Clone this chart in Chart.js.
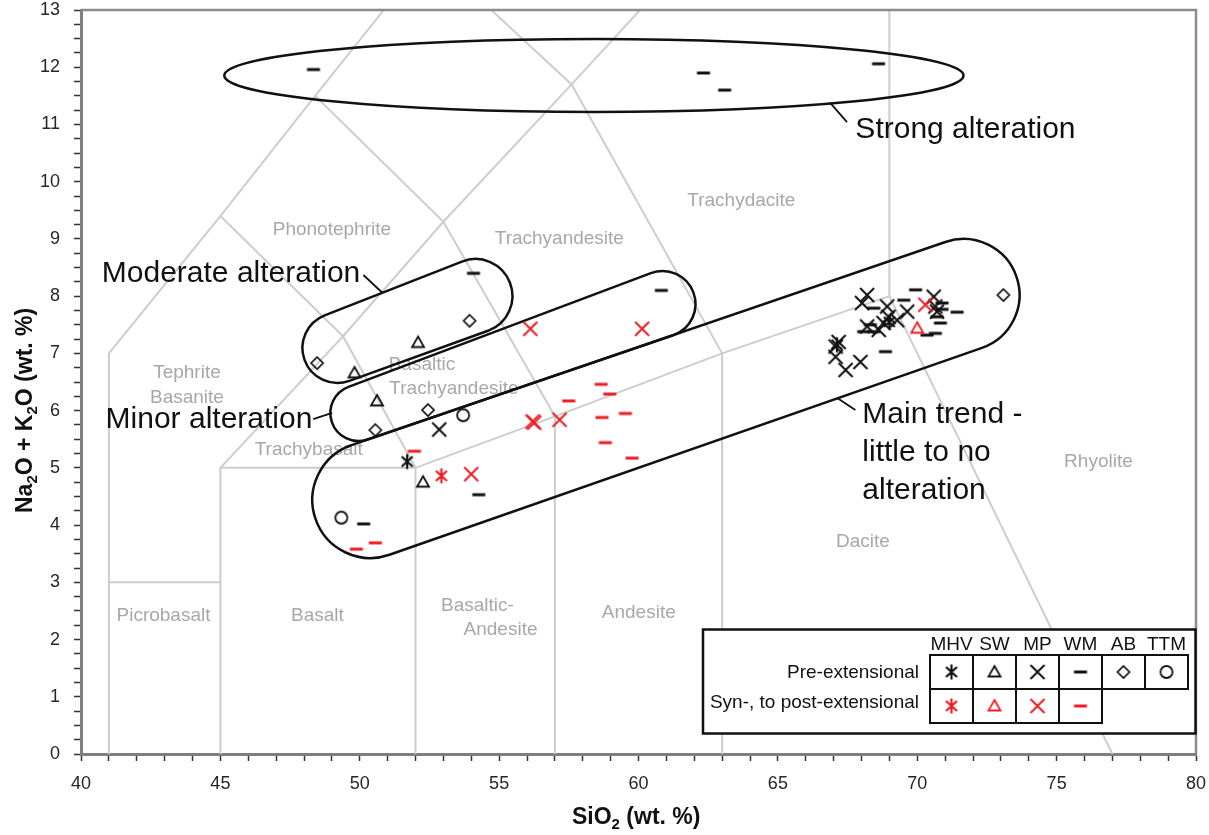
<!DOCTYPE html>
<html>
<head>
<meta charset="utf-8">
<title>TAS diagram</title>
<script src="https://cdn.jsdelivr.net/npm/chart.js@4.4.1/dist/chart.umd.min.js"></script>
<style>
  html, body { margin: 0; padding: 0; background: #fff; }
  canvas { display: block; }
</style>
</head>
<body>
<canvas id="tasChart" width="1209" height="835"></canvas>
<script>
const FONT = '"Liberation Sans", Arial, sans-serif';
const BLACK = '#111';
const RED = '#ee1c25';

const groups = ['MHV', 'SW', 'MP', 'WM', 'AB', 'TTM'];

// SiO2, Na2O + K2O (wt. %)
const mhvPre = [[51.7, 5.11], [69.0, 7.55], [67.12, 7.15]];
const mhvSyn = [[52.93, 4.86]];
const swPre = [[52.09, 7.19], [49.81, 6.66], [50.62, 6.17], [52.27, 4.75]];
const swSyn = [[70.0, 7.44]];
const mpPre = [[52.85, 5.67], [68.2, 8.02], [68.02, 7.88], [68.92, 7.82], [70.59, 7.99], [69.64, 7.73],
  [68.97, 7.64], [68.79, 7.53], [69.28, 7.58], [70.71, 7.73], [70.65, 7.82], [68.2, 7.47], [68.62, 7.41],
  [67.18, 7.2], [67.07, 7.12], [67.07, 6.94], [67.96, 6.85], [67.43, 6.71]];
const mpSyn = [[56.12, 7.43], [60.13, 7.43], [56.2, 5.81], [56.26, 5.79], [57.17, 5.84], [54.0, 4.89], [70.29, 7.85]];
const wmPre = [[48.34, 11.96], [62.33, 11.9], [63.09, 11.6], [68.61, 12.06], [54.08, 8.4], [60.82, 8.1],
  [54.27, 4.53], [50.14, 4.02], [69.94, 8.11], [69.52, 7.93], [68.44, 7.79], [70.89, 7.88], [71.43, 7.72],
  [70.89, 7.77], [70.71, 7.64], [70.83, 7.53], [70.65, 7.35], [70.35, 7.32], [68.08, 7.38], [68.44, 7.38],
  [68.86, 7.03], [68.32, 7.5]];
const wmSyn = [[51.96, 5.29], [50.56, 3.69], [49.88, 3.58], [58.66, 6.46], [58.97, 6.29], [57.5, 6.17],
  [58.69, 5.88], [59.53, 5.95], [58.81, 5.44], [59.77, 5.17]];
const abPre = [[53.94, 7.57], [48.47, 6.83], [52.45, 6.01], [50.56, 5.66], [73.09, 8.02]];
const ttmPre = [[53.71, 5.92], [49.34, 4.13]];

// TAS field boundaries (Le Bas et al., 1986)
const tasBoundaries = [
  [[41, 0], [41, 7], [45, 9.4], [48.4, 11.5], [52.5, 14]],
  [[41, 3], [45, 3]],
  [[45, 0], [45, 5], [52, 5], [57, 5.9], [63, 7], [69, 8], [77, 0]],
  [[45, 9.4], [49.4, 7.3], [53, 9.3], [57.6, 11.7], [61, 13.5]],
  [[45, 5], [49.4, 7.3], [52, 5]],
  [[48.4, 11.5], [53, 9.3]],
  [[52.5, 14], [57.6, 11.7], [63, 7]],
  [[57, 5.9], [53, 9.3]],
  [[52, 0], [52, 5]],
  [[57, 0], [57, 5.9]],
  [[63, 0], [63, 7]],
  [[69, 8], [69, 13]]
];

const fieldNames = ['Picrobasalt', 'Basalt', 'Basaltic-', 'Andesite', 'Andesite', 'Dacite', 'Rhyolite',
  'Trachybasalt', 'Basaltic', 'Trachyandesite', 'Trachyandesite', 'Trachydacite', 'Phonotephrite',
  'Tephrite', 'Basanite'];
const fieldAt = [[42.96, 2.41], [48.48, 2.41], [54.22, 2.59], [55.05, 2.17], [60.01, 2.46], [68.05, 3.7],
  [76.5, 5.1], [48.17, 5.31], [52.23, 6.8], [53.38, 6.38], [57.16, 9.0], [63.69, 9.66], [49.0, 9.16],
  [43.8, 6.66], [43.8, 6.22]];

// alteration envelopes: end centres in data units, end radii in px
const envelopes = [
  { from: [50.38, 4.438], to: [71.66, 8.02], r: [58, 56] },
  { from: [49.95, 5.958], to: [60.86, 7.863], r: [28, 33] },
  { from: [49.2, 7.094], to: [54.15, 8.003], r: [35, 37] }
];
const strongEllipse = { centre: [58.4, 11.856], half: [13.26, 0.638] };

const notes = [
  { lines: ['Strong alteration'], at: [67.78, 10.9], align: 'left' },
  { lines: ['Moderate alteration'], at: [50.02, 8.39], align: 'right' },
  { lines: ['Minor alteration'], at: [48.3, 5.84], align: 'right' },
  { lines: ['Main trend -', 'little to no', 'alteration'], at: [68.03, 5.92], align: 'left' }
];
const leaders = [
  [[66.87, 11.38], [67.48, 11.04]],
  [[50.13, 8.37], [50.81, 8.06]],
  [[48.33, 5.85], [49.01, 5.96]],
  [[67.13, 6.22], [67.78, 6.01]]
];

function makeMarker(kind, colour) {
  const c = document.createElement('canvas');
  c.width = c.height = 22;
  const g = c.getContext('2d');
  g.strokeStyle = colour;
  g.fillStyle = colour;
  g.lineWidth = 2;
  g.beginPath();
  switch (kind) {
    case 'asterisk':
      g.lineWidth = 2.2;
      g.moveTo(5.5, 6); g.lineTo(16.5, 16);
      g.moveTo(16.5, 6); g.lineTo(5.5, 16);
      g.moveTo(11, 3.5); g.lineTo(11, 18.5);
      break;
    case 'triangle':
      g.lineWidth = 1.8;
      g.moveTo(11, 5); g.lineTo(17, 15.5); g.lineTo(5, 15.5); g.closePath();
      break;
    case 'cross':
      g.moveTo(4, 4); g.lineTo(18, 18);
      g.moveTo(18, 4); g.lineTo(4, 18);
      break;
    case 'dash':
      g.fillRect(4.5, 9.5, 13, 3);
      return c;
    case 'diamond':
      g.lineWidth = 1.7;
      g.moveTo(11, 5); g.lineTo(17, 11); g.lineTo(11, 17); g.lineTo(5, 11); g.closePath();
      break;
    case 'circle':
      g.lineWidth = 1.8;
      g.arc(11, 11, 6, 0, 2 * Math.PI);
      break;
  }
  g.stroke();
  return c;
}

const kinds = ['asterisk', 'triangle', 'cross', 'dash', 'diamond', 'circle'];
const preMarkers = kinds.map(k => makeMarker(k, BLACK));
const synMarkers = kinds.map(k => makeMarker(k, RED));

const toXY = arr => arr.map(([x, y]) => ({ x, y }));

const sampleSet = (points, marker) => ({
  data: toXY(points),
  pointStyle: marker,
  pointRadius: 7,
  pointHoverRadius: 7,
  order: 1,
  isSample: true
});

const datasets = [
  sampleSet(mpSyn, synMarkers[2]),
  sampleSet(swSyn, synMarkers[1]),
  sampleSet(mhvSyn, synMarkers[0]),
  sampleSet(wmSyn, synMarkers[3]),
  sampleSet(mhvPre, preMarkers[0]),
  sampleSet(swPre, preMarkers[1]),
  sampleSet(mpPre, preMarkers[2]),
  sampleSet(wmPre, preMarkers[3]),
  sampleSet(abPre, preMarkers[4]),
  sampleSet(ttmPre, preMarkers[5]),
  ...tasBoundaries.map(line => ({
    type: 'line',
    data: toXY(line),
    borderColor: '#cdcdcd',
    borderWidth: 2,
    pointRadius: 0,
    fill: false,
    tension: 0,
    order: 2,
    clip: 0
  }))
];

function drawEnvelope(ctx, a, b, r1, r2) {
  const dx = b.x - a.x, dy = b.y - a.y;
  const th = Math.atan2(dy, dx);
  const phi = Math.acos((r1 - r2) / Math.hypot(dx, dy));
  ctx.beginPath();
  ctx.arc(b.x, b.y, r2, th - phi, th + phi);
  ctx.arc(a.x, a.y, r1, th + phi, th - phi + 2 * Math.PI);
  ctx.closePath();
  ctx.stroke();
}

function drawSubscripted(ctx, parts, x, y, size) {
  let cx = x;
  parts.forEach(([text, sub]) => {
    ctx.font = `bold ${sub ? Math.round(size * 0.64) : size}px ${FONT}`;
    ctx.fillText(text, cx, sub ? y + size * 0.22 : y);
    cx += ctx.measureText(text).width;
  });
}

let overlayDone = false;

const overlay = {
  id: 'overlay',
  beforeDatasetsDraw() {
    overlayDone = false;
  },
  beforeDatasetDraw(chart, args) {
    if (overlayDone || !chart.data.datasets[args.index].isSample) return;
    overlayDone = true;
    const { ctx, scales: { x, y } } = chart;
    const px = ([vx, vy]) => ({ x: x.getPixelForValue(vx), y: y.getPixelForValue(vy) });
    ctx.save();

    // field names
    ctx.fillStyle = '#a8a8a8';
    ctx.font = `19px ${FONT}`;
    ctx.textAlign = 'center';
    ctx.textBaseline = 'middle';
    fieldNames.forEach((name, i) => {
      const p = px(fieldAt[i]);
      ctx.fillText(name, p.x, p.y);
    });

    // envelopes
    ctx.strokeStyle = BLACK;
    ctx.lineWidth = 2.5;
    envelopes.forEach(e => drawEnvelope(ctx, px(e.from), px(e.to), e.r[0], e.r[1]));
    const c = px(strongEllipse.centre);
    const rx = x.getPixelForValue(strongEllipse.centre[0] + strongEllipse.half[0]) - c.x;
    const ry = c.y - y.getPixelForValue(strongEllipse.centre[1] + strongEllipse.half[1]);
    ctx.beginPath();
    ctx.ellipse(c.x, c.y, rx, ry, 0, 0, 2 * Math.PI);
    ctx.stroke();

    ctx.lineWidth = 1.8;
    leaders.forEach(([a, b]) => {
      const p = px(a), q = px(b);
      ctx.beginPath();
      ctx.moveTo(p.x, p.y);
      ctx.lineTo(q.x, q.y);
      ctx.stroke();
    });

    ctx.fillStyle = BLACK;
    ctx.font = `30px ${FONT}`;
    notes.forEach(n => {
      const p = px(n.at);
      ctx.textAlign = n.align;
      n.lines.forEach((line, i) => ctx.fillText(line, p.x, p.y + i * 38));
    });
    ctx.restore();
  },
  afterDraw(chart) {
    const { ctx, chartArea: area } = chart;
    ctx.save();

    // top and right frame
    ctx.strokeStyle = '#8c8c8c';
    ctx.lineWidth = 2.5;
    ctx.beginPath();
    ctx.moveTo(area.left, area.top);
    ctx.lineTo(area.right, area.top);
    ctx.lineTo(area.right, area.bottom);
    ctx.stroke();

    // axis titles
    ctx.fillStyle = BLACK;
    ctx.textAlign = 'left';
    ctx.textBaseline = 'alphabetic';
    drawSubscripted(ctx, [['SiO'], ['2', true], [' (wt. %)']], 572, 824, 23);
    ctx.save();
    ctx.translate(31.5, 513);
    ctx.rotate(-Math.PI / 2);
    drawSubscripted(ctx, [['Na'], ['2', true], ['O + K'], ['2', true], ['O (wt. %)']], 0, 0, 23);
    ctx.restore();

    // symbol key
    const box = { l: 703, t: 629.5, r: 1195.5, b: 733.5 };
    ctx.fillStyle = '#fff';
    ctx.fillRect(box.l, box.t, box.r - box.l, box.b - box.t);
    ctx.strokeStyle = BLACK;
    ctx.lineWidth = 2.5;
    ctx.strokeRect(box.l, box.t, box.r - box.l, box.b - box.t);

    const colX = 930, colW = 43, rowT = 655, rowH = 34;
    ctx.font = `19px ${FONT}`;
    ctx.fillStyle = BLACK;
    ctx.textBaseline = 'middle';
    ctx.textAlign = 'center';
    groups.forEach((g, i) => ctx.fillText(g, colX + colW * (i + 0.5), 645));
    ctx.textAlign = 'right';
    ctx.fillText('Pre-extensional', 919, 673);
    ctx.fillText('Syn-, to post-extensional', 919, 703);

    ctx.lineWidth = 2;
    [preMarkers, synMarkers.slice(0, 4)].forEach((row, r) => {
      row.forEach((m, i) => {
        const cx = colX + colW * i, cy = rowT + rowH * r;
        ctx.strokeRect(cx, cy, colW, rowH);
        ctx.drawImage(m, cx + colW / 2 - 11, cy + rowH / 2 - 11);
      });
    });
    ctx.restore();
  }
};

const tickFont = { family: FONT, size: 18 };

const createChart = (context, config) => new Chart(context, config);

createChart(document.getElementById('tasChart'), {
  type: 'scatter',
  data: { datasets },
  options: {
    responsive: false,
    animation: false,
    events: [],
    layout: { padding: { top: 10, right: 13, left: 0, bottom: 0 } },
    plugins: { legend: { display: false }, tooltip: { enabled: false } },
    scales: {
      x: {
        type: 'linear',
        min: 40,
        max: 80,
        afterFit(s) { s.height = 81; s.paddingLeft = 0; s.paddingRight = 0; },
        ticks: {
          stepSize: 1,
          autoSkip: false,
          maxRotation: 0,
          padding: 12,
          color: '#262626',
          font: tickFont,
          callback: v => (v % 5 === 0 ? v : '')
        },
        grid: { drawOnChartArea: false, tickLength: 7, tickColor: '#333', tickWidth: 1.5 },
        border: { color: '#7f7f7f', width: 3 }
      },
      y: {
        type: 'linear',
        min: 0,
        max: 13,
        afterFit(s) { s.width = 81; s.paddingTop = 0; s.paddingBottom = 0; },
        ticks: {
          stepSize: 0.25,
          autoSkip: false,
          padding: 14,
          color: '#262626',
          font: tickFont,
          callback: v => (Number.isInteger(v) ? v : '')
        },
        grid: { drawOnChartArea: false, tickLength: 7, tickColor: '#333', tickWidth: 1.5 },
        border: { color: '#7f7f7f', width: 3 }
      }
    }
  },
  plugins: [overlay]
});
</script>
</body>
</html>
